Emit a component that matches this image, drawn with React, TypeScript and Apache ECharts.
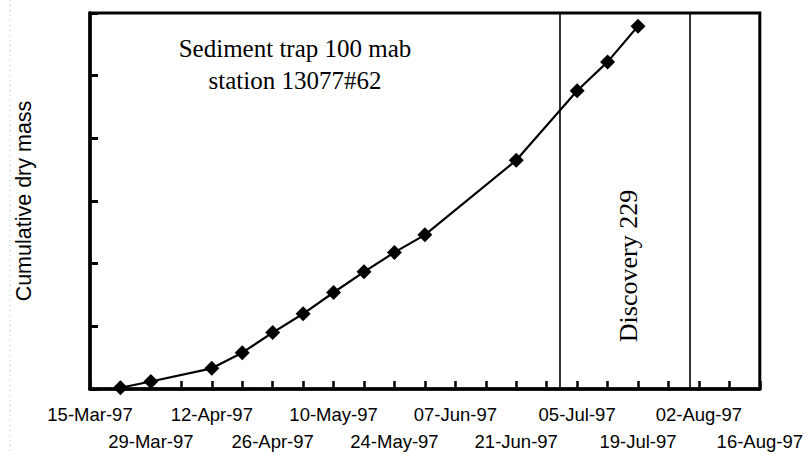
import React, { useEffect, useRef } from "react";
import * as echarts from "echarts";

const axisStart = "1997-03-15";
const axisEnd = "1997-08-16";
const sampleDates = [
  "1997-03-22", "1997-03-29", "1997-04-12", "1997-04-19", "1997-04-26",
  "1997-05-03", "1997-05-10", "1997-05-17", "1997-05-24", "1997-05-31",
  "1997-06-21", "1997-07-05", "1997-07-12", "1997-07-19",
];
const cumulativeMass = [
  0.02, 0.12, 0.33, 0.58, 0.9, 1.2, 1.54, 1.87, 2.18, 2.46, 3.65, 4.76, 5.22, 5.79,
];
const tickLabels = [
  "15-Mar-97", "29-Mar-97", "12-Apr-97", "26-Apr-97", "10-May-97", "24-May-97",
  "07-Jun-97", "21-Jun-97", "05-Jul-97", "19-Jul-97", "02-Aug-97", "16-Aug-97",
];
const cruiseBounds = ["1997-07-01", "1997-07-31"];
const annotationLines = ["Sediment trap 100 mab", "station 13077#62"];
const cruiseLabel = "Discovery 229";
const yAxisTitle = "Cumulative dry mass";

const dayOf = (d: string) =>
  Math.round((Date.parse(d + "T00:00:00Z") - Date.parse(axisStart + "T00:00:00Z")) / 86400000);

export default function App() {
  const ref = useRef<HTMLDivElement>(null);
  useEffect(() => {
    if (!ref.current) return;
    const chart = echarts.init(ref.current, undefined, { renderer: "svg" });
    const serif = "'Liberation Serif', 'Times New Roman', serif";
    const sans = "'Liberation Sans', Arial, sans-serif";
    chart.setOption({
      animation: false,
      backgroundColor: "#fff",
      grid: {
        left: 90,
        right: 39,
        top: 13,
        bottom: 60,
        show: true,
        borderColor: "#000",
        borderWidth: 3,
      },
      xAxis: {
        type: "value",
        min: 0,
        max: dayOf(axisEnd),
        interval: 7,
        axisLine: { lineStyle: { color: "#000", width: 3.5 } },
        axisTick: { inside: true, length: 8, lineStyle: { color: "#000", width: 2.5 } },
        splitLine: { show: false },
        axisLabel: {
          interval: 0,
          margin: 12,
          color: "#000",
          fontFamily: sans,
          fontSize: 18.5,
          lineHeight: 27,
          showMinLabel: true,
          showMaxLabel: true,
          formatter: (v: number) => {
            if (v % 14 !== 0) return "";
            const k = v / 14;
            const lab = tickLabels[k] ?? "";
            return k % 2 === 0 ? lab : "\n" + lab;
          },
        },
      },
      yAxis: {
        type: "value",
        min: 0,
        max: 6,
        interval: 1,
        name: yAxisTitle,
        nameLocation: "middle",
        nameGap: 55,
        nameTextStyle: { color: "#000", fontFamily: sans, fontSize: 21.5 },
        axisLine: { show: true, lineStyle: { color: "#000", width: 3.5 } },
        axisTick: { show: true, inside: true, length: 8, lineStyle: { color: "#000", width: 3 } },
        axisLabel: { show: false },
        splitLine: { show: false },
      },
      graphic: [
        {
          type: "line",
          shape: { x1: 10, y1: 0, x2: 10, y2: 455 },
          style: { stroke: "#bdbdbd", lineWidth: 1, lineDash: [1, 4] },
          silent: true,
        },
        {
          type: "text",
          x: 295,
          y: 48,
          style: {
            text: annotationLines[0],
            fontFamily: serif,
            fontSize: 25,
            fill: "#000",
            textAlign: "center",
            textVerticalAlign: "middle",
          },
        },
        {
          type: "text",
          x: 295,
          y: 80,
          style: {
            text: annotationLines[1],
            fontFamily: serif,
            fontSize: 25,
            fill: "#000",
            textAlign: "center",
            textVerticalAlign: "middle",
          },
        },
        {
          type: "text",
          x: 628,
          y: 266,
          rotation: Math.PI / 2,
          style: {
            text: cruiseLabel,
            fontFamily: serif,
            fontSize: 26,
            fill: "#000",
            textAlign: "center",
            textVerticalAlign: "middle",
          },
        },
      ],
      series: [
        {
          type: "line",
          data: sampleDates.map((d, i) => [dayOf(d), cumulativeMass[i]]),
          symbol: "diamond",
          symbolSize: 15,
          clip: false,
          lineStyle: { color: "#000", width: 2.2 },
          itemStyle: { color: "#000" },
          markLine: {
            silent: true,
            symbol: ["none", "none"],
            label: { show: false },
            lineStyle: { color: "#000", width: 1.6, type: "solid" },
            data: cruiseBounds.map((d) => ({ xAxis: dayOf(d) })),
          },
        },
      ],
    });
    return () => chart.dispose();
  }, []);
  return (
    <div
      ref={ref}
      style={{ position: "absolute", left: 0, top: 0, width: 806, height: 455 }}
    />
  );
}
